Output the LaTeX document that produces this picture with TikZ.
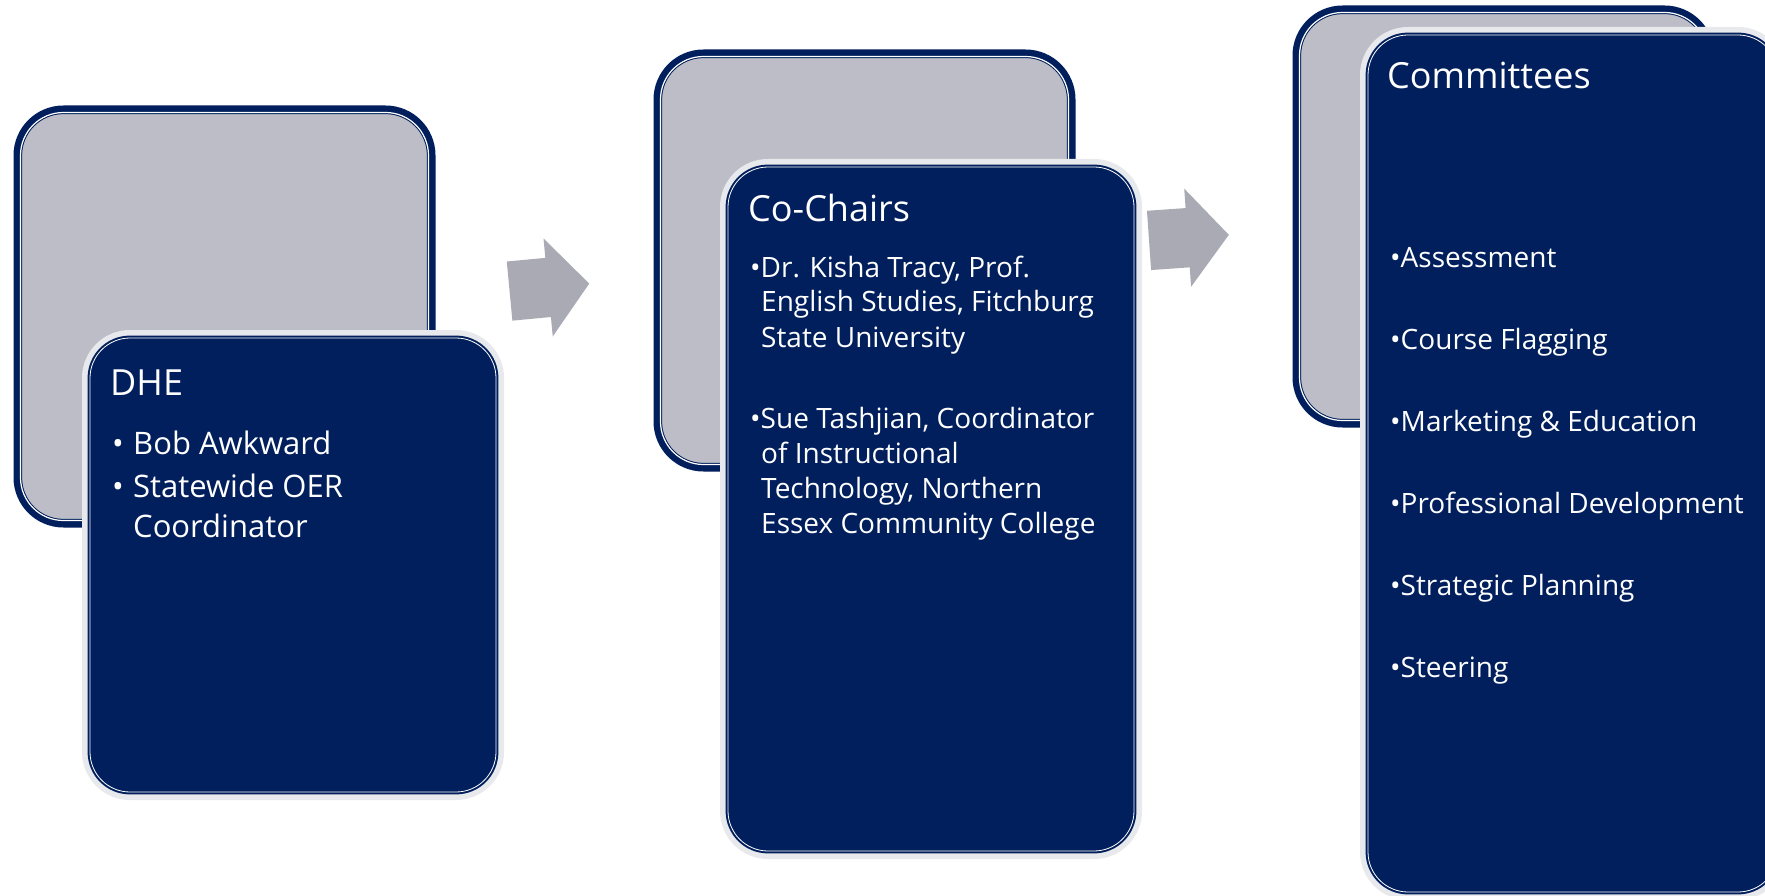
\documentclass[tikz,border=0pt]{standalone}
\usepackage{fontspec}
\setmainfont{Open Sans}
\usepackage{tikz}
\usetikzlibrary{shapes.arrows}

\definecolor{navy}{HTML}{001F5C}
\definecolor{cardgray}{HTML}{BCBDC6}
\definecolor{glow}{HTML}{E8E9EC}
\definecolor{arrowgray}{HTML}{AAAAB4}

\tikzset{
    backcard/.style={rectangle, anchor=north west, inner sep=0pt,
        rounded corners=43pt, fill=cardgray,
        preaction={draw=navy, line width=14pt},
        draw=navy, line width=1pt, double=white, double distance=1.2pt,
        minimum width=408pt, minimum height=408pt},
    frontcard/.style={rectangle, anchor=north west, inner sep=0pt,
        rounded corners=40pt, fill=navy,
        preaction={draw=glow, line width=16pt},
        draw=navy, line width=2pt, double=white, double distance=0.8pt,
        minimum width=406pt},
    flowarrow/.style={single arrow, fill=arrowgray,
        inner xsep=0pt, inner ysep=29.5pt,
        minimum height=80pt, minimum width=98pt,
        single arrow head extend=19.5pt, single arrow tip angle=100},
    cardtitle/.style={text=white, inner sep=0pt, anchor=base west,
        font=\fontsize{36}{40}\selectfont},
    bodyA/.style={text=white, inner sep=0pt, anchor=base west,
        font=\fontsize{31}{36}\selectfont},
    bodyB/.style={text=white, inner sep=0pt, anchor=base west,
        font=\fontsize{28}{34}\selectfont},
}

\begin{document}
\begin{tikzpicture}[x=1pt, y=-1pt]
    \useasboundingbox (0,0) rectangle (1765,896);
    \clip (0,0) rectangle (1765,896);
    \fill[white] (0,0) rectangle (1765,896);

    % back cards
    \node[backcard] (dheback) at (20,112) {};
    \node[backcard] (chairsback) at (660,56) {};
    \node[backcard] (commback) at (1299,12) {};

    % front cards
    \node[frontcard, minimum height=454pt] (dhe) at (89,337) {};
    \node[frontcard, minimum height=684pt] (chairs) at (727,166) {};
    \node[frontcard, minimum height=857pt, minimum width=410pt] (comm) at (1367,34) {};

    % arrows
    \node[flowarrow, rotate=5.4] (tochairs) at (537,288.5) {};
    \node[flowarrow, rotate=4] (tocomm) at (1176.5,238.5) {};

    % DHE
    \node[cardtitle] (dhetitle) at (110,395) {DHE};
    \node[bodyA] (dhebul1) at (112,454) {•};
    \node[bodyA] (dheitem1) at (133,454) {Bob Awkward};
    \node[bodyA] (dhebul2) at (112,497) {•};
    \node[bodyA] (dheitem2) at (133,497) {Statewide OER};
    \node[bodyA] (dheitem3) at (133,537) {Coordinator};

    % Co-Chairs
    \node[cardtitle] (chairstitle) at (748,222) {Co-Chairs};
    \foreach \x/\y/\t [count=\i] in {750/277/{•Dr. Kisha Tracy, Prof.},
            761/312/{English Studies, Fitchburg}, 761/347/{State University},
            750/428/{•Sue Tashjian, Coordinator}, 761/463/{of Instructional},
            761/498/{Technology, Northern}, 761/533/{Essex Community College}}
        \node[bodyB] (chairsline\i) at (\x,\y) {\t};

    % Committees
    \node[cardtitle] (commtitle) at (1387,89) {Committees};
    \foreach \t [count=\i] in {Assessment, Course Flagging, Marketing \& Education,
            Professional Development, Strategic Planning, Steering}
        \node[bodyB] (commitem\i) at (1390,{268+81.8*(\i-1)}) {•\t};
\end{tikzpicture}
\end{document}
